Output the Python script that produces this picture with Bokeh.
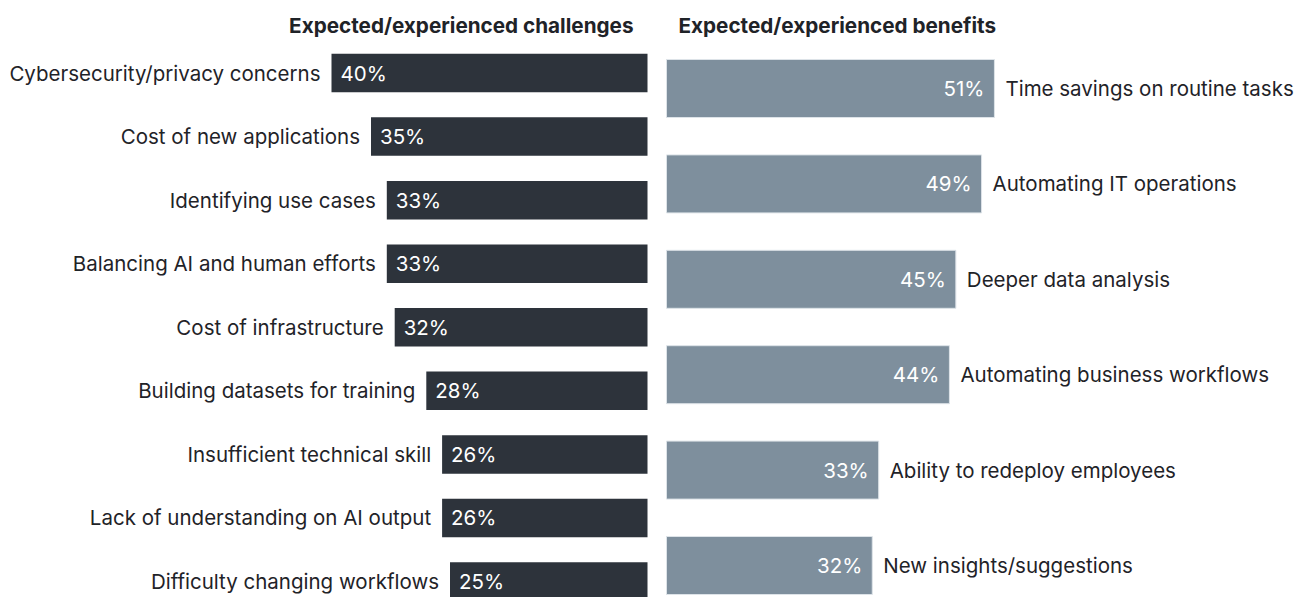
from bokeh.plotting import figure
from bokeh.models import ColumnDataSource, Range1d, Label
from bokeh.layouts import row
from bokeh.core.properties import value
from bokeh.embed import file_html
from bokeh.resources import INLINE

# ---- data ----
challenges = [
    "Cybersecurity/privacy concerns",
    "Cost of new applications",
    "Identifying use cases",
    "Balancing AI and human efforts",
    "Cost of infrastructure",
    "Building datasets for training",
    "Insufficient technical skill",
    "Lack of understanding on AI output",
    "Difficulty changing workflows",
]
challenge_values = [40, 35, 33, 33, 32, 28, 26, 26, 25]

benefits = [
    "Time savings on routine tasks",
    "Automating IT operations",
    "Deeper data analysis",
    "Automating business workflows",
    "Ability to redeploy employees",
    "New insights/suggestions",
]
benefit_values = [51, 49, 45, 44, 33, 32]

title_left = "Expected/experienced challenges"
title_right = "Expected/experienced benefits"

FONT = "Inter"
DARK = "#2d333b"
GREY = "#7e8f9d"
TEXT = "#1f2328"
H = 597
LABEL_SIZE = "20.5px"
PCT_SIZE = "20.5px"
TITLE_SIZE = "20.7px"

# ---- left panel ----
W1 = 655
s1 = ColumnDataSource(dict(
    y=list(range(len(challenges))),
    v=challenge_values,
    cat=challenges,
    pct=[f"{v}%" for v in challenge_values],
))
px1 = 7.9
row1 = 63.57
top1 = 72.5
p1 = figure(width=W1, height=H, output_backend="svg", toolbar_location=None,
            x_range=Range1d((W1 - 8) / px1, -8 / px1),
            y_range=Range1d((H - top1) / row1, -top1 / row1),
            min_border=0, outline_line_color=None)
p1.hbar(y="y", left=0, right="v", height=38.5 / row1, source=s1,
        fill_color=DARK, line_color=None)
p1.text(x="v", y="y", text="cat", source=s1, x_offset=-11,
        text_align="right", text_baseline="middle",
        text_font=value(FONT), text_font_size=LABEL_SIZE, text_color=TEXT)
p1.text(x="v", y="y", text="pct", source=s1, x_offset=9,
        text_align="left", text_baseline="middle",
        text_font=value(FONT), text_font_size=PCT_SIZE, text_color="white")
p1.add_layout(Label(x=633, y=H - 25, x_units="screen", y_units="screen",
                    text=title_left, text_align="right", text_baseline="middle",
                    text_font=FONT, text_font_size=TITLE_SIZE, text_font_style="bold",
                    text_color=TEXT))

# ---- right panel ----
W2 = 651
s2 = ColumnDataSource(dict(
    y=list(range(len(benefits))),
    v=benefit_values,
    cat=benefits,
    pct=[f"{v}%" for v in benefit_values],
))
px2 = 6.43
row2 = 95.4
top2 = 88
p2 = figure(width=W2, height=H, output_backend="svg", toolbar_location=None,
            x_range=Range1d(-11 / px2, (W2 - 11) / px2),
            y_range=Range1d((H - top2) / row2, -top2 / row2),
            min_border=0, outline_line_color=None)
p2.hbar(y="y", left=0, right="v", height=58 / row2, source=s2,
        fill_color=GREY, line_color="#dde3e8", line_width=1)
p2.text(x="v", y="y", text="pct", source=s2, x_offset=-10,
        text_align="right", text_baseline="middle",
        text_font=value(FONT), text_font_size=PCT_SIZE, text_color="white")
p2.text(x="v", y="y", text="cat", source=s2, x_offset=11,
        text_align="left", text_baseline="middle",
        text_font=value(FONT), text_font_size=LABEL_SIZE, text_color=TEXT)
p2.add_layout(Label(x=23, y=H - 25, x_units="screen", y_units="screen",
                    text=title_right, text_align="left", text_baseline="middle",
                    text_font=FONT, text_font_size=TITLE_SIZE, text_font_style="bold",
                    text_color=TEXT))

for p in (p1, p2):
    p.xaxis.visible = False
    p.yaxis.visible = False
    p.grid.visible = False
    p.background_fill_color = "white"
    p.border_fill_color = "white"

layout = row(p1, p2)
open("out.html", "w").write(file_html(layout, INLINE))
